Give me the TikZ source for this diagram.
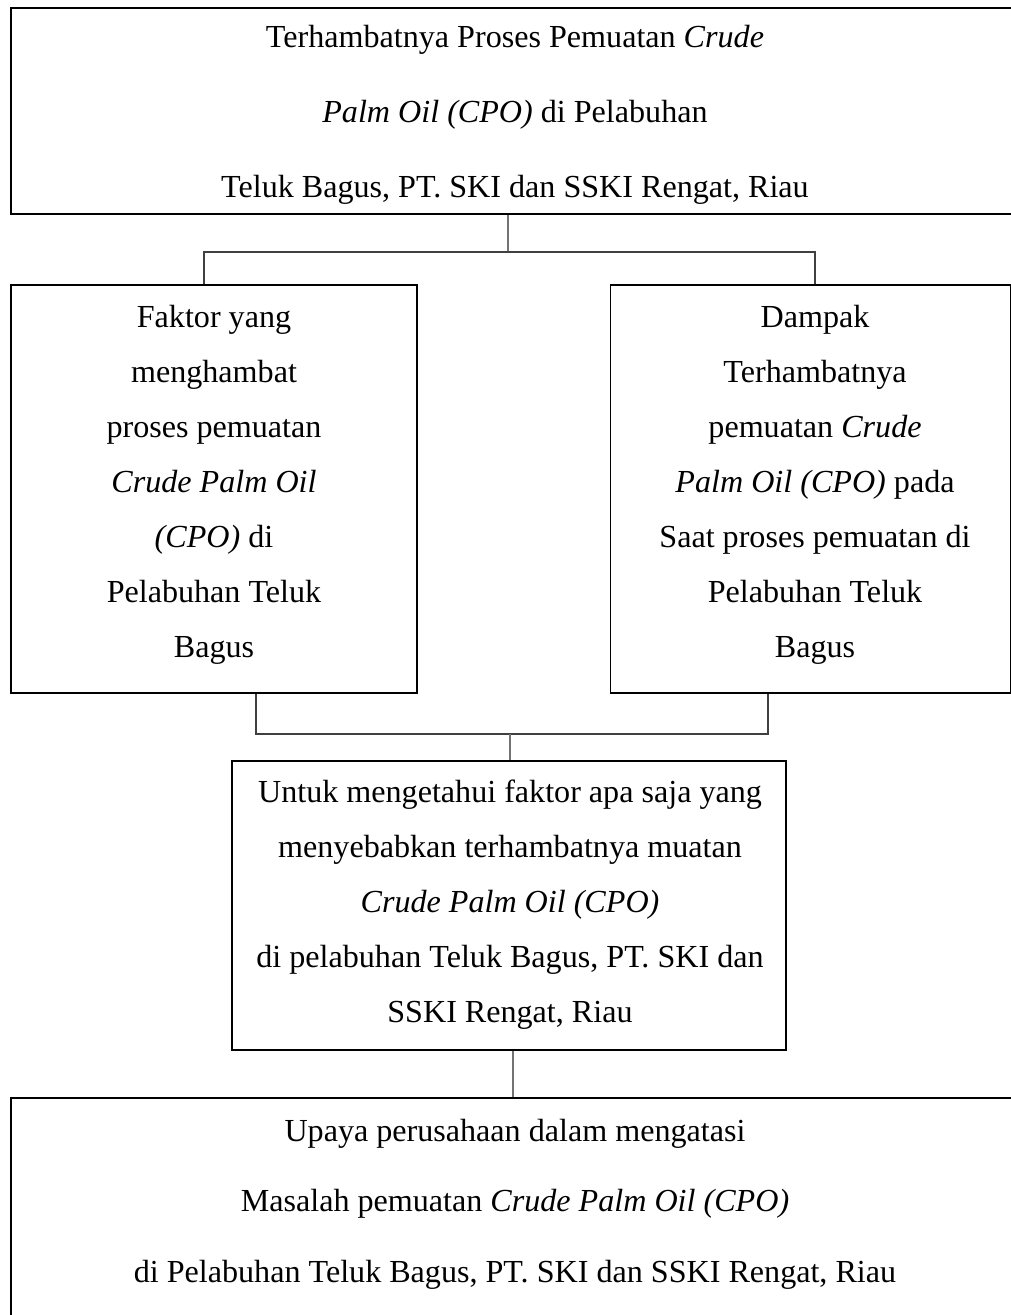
\documentclass[tikz,border=0pt]{standalone}
\usepackage{fontspec}
\setmainfont{Liberation Serif}
\begin{document}
\begin{tikzpicture}[x=0.436pt,y=-0.436pt,
  box/.style={draw=black, line width=0.7pt, rectangle, inner sep=0pt, anchor=north west},
  txt/.style={inner sep=0pt, align=center},
  conn/.style={draw=black!75, line width=0.75pt},
  connv/.style={draw=black!55, line width=1pt}]
\useasboundingbox (0,0) rectangle (1011,1315);
% boxes
\node[box, minimum width=1020*0.436pt, minimum height=206*0.436pt] (top) at (10,7) {};
\node[box, minimum width=406*0.436pt, minimum height=408*0.436pt] (left) at (10,284) {};
\node[box, minimum width=400*0.436pt, minimum height=408*0.436pt] (right) at (609.5,284) {};
\node[box, minimum width=554*0.436pt, minimum height=289*0.436pt] (mid) at (231,760) {};
\node[box, minimum width=1020*0.436pt, minimum height=250*0.436pt] (bot) at (10,1097) {};
% texts
\node[txt, font=\fontsize{14pt}{32.7pt}\selectfont] (topT) at (515,115)
  {Terhambatnya Proses Pemuatan \textit{Crude}\\ \textit{Palm Oil (CPO)} di Pelabuhan\\ Teluk Bagus, PT. SKI dan SSKI Rengat, Riau};
\node[txt, font=\fontsize{14pt}{24pt}\selectfont] (leftT) at (214,484.5)
  {Faktor yang\\ menghambat\\ proses pemuatan\\ \textit{Crude Palm Oil}\\ \textit{(CPO)} di\\ Pelabuhan Teluk\\ Bagus};
\node[txt, font=\fontsize{14pt}{24pt}\selectfont] (rightT) at (815,484.5)
  {Dampak\\ Terhambatnya\\ pemuatan \textit{Crude}\\ \textit{Palm Oil (CPO)} pada\\ Saat proses pemuatan di\\ Pelabuhan Teluk\\ Bagus};
\node[txt, font=\fontsize{14pt}{24pt}\selectfont] (midT) at (510,905)
  {Untuk mengetahui faktor apa saja yang\\ menyebabkan terhambatnya muatan\\ \textit{Crude Palm Oil (CPO)}\\ di pelabuhan Teluk Bagus, PT. SKI dan\\ SSKI Rengat, Riau};
\node[txt, font=\fontsize{14pt}{30.7pt}\selectfont] (botT) at (515,1204)
  {Upaya perusahaan dalam mengatasi\\ Masalah pemuatan \textit{Crude Palm Oil (CPO)}\\ di Pelabuhan Teluk Bagus, PT. SKI dan SSKI Rengat, Riau};
% junctions
\coordinate (j1) at (508,252);
\coordinate (j1l) at (204,252);
\coordinate (j1r) at (815,252);
\coordinate (j2) at (510,734);
\coordinate (j2l) at (256,734);
\coordinate (j2r) at (768,734);
\coordinate (j3) at (513,1070);
% connectors
\draw[connv] (top.south -| j1) -- (j1);
\draw[conn] (left.north -| j1l) -- (j1l) -- (j1r) -- (right.north -| j1r);
\draw[conn] (left.south -| j2l) -- (j2l) -- (j2r) -- (right.south -| j2r);
\draw[connv] (j2) -- (mid.north -| j2);
\draw[connv, line width=1.2pt] (mid.south -| j3) -- (bot.north -| j3);
\end{tikzpicture}
\end{document}
